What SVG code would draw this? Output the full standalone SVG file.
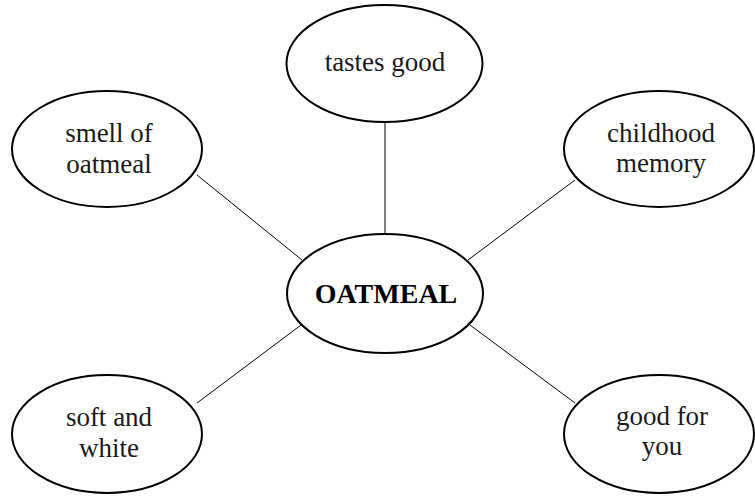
<svg xmlns="http://www.w3.org/2000/svg" width="755" height="496" viewBox="0 0 755 496">
<style>
.node ellipse{fill:#fff;stroke:#000;stroke-width:2}
.node text{font-family:"Liberation Serif","Times New Roman",serif;font-size:27px;fill:#1a1a1a;text-anchor:middle}
.node text.main{font-weight:bold;font-size:28px;fill:#000}
.conn line{stroke:#000;stroke-width:1}
</style>
<rect width="755" height="496" fill="#fff"/>
<g id="connectors" class="conn">
<line x1="385" y1="122" x2="385" y2="234"/>
<line x1="197" y1="175" x2="302" y2="260"/>
<line x1="575" y1="180" x2="468" y2="260"/>
<line x1="197" y1="403" x2="301" y2="325"/>
<line x1="575" y1="403" x2="470" y2="325"/>
</g>
<g id="oatmeal" class="node">
<ellipse cx="385" cy="293.5" rx="98" ry="59.5"/>
<text class="main" x="386" y="303">OATMEAL</text>
</g>
<g id="tastes-good" class="node">
<ellipse cx="384.5" cy="63.5" rx="98" ry="58.5"/>
<text x="385" y="71">tastes good</text>
</g>
<g id="smell-of-oatmeal" class="node">
<ellipse cx="107" cy="149" rx="95" ry="58"/>
<text x="109" y="142">smell of</text>
<text x="109" y="173">oatmeal</text>
</g>
<g id="childhood-memory" class="node">
<ellipse cx="659" cy="149" rx="95" ry="58"/>
<text x="661" y="142">childhood</text>
<text x="661" y="172">memory</text>
</g>
<g id="soft-and-white" class="node">
<ellipse cx="107" cy="434" rx="95" ry="59"/>
<text x="109" y="426">soft and</text>
<text x="109" y="457">white</text>
</g>
<g id="good-for-you" class="node">
<ellipse cx="659" cy="434" rx="95" ry="59"/>
<text x="662" y="425">good for</text>
<text x="662" y="455">you</text>
</g>
</svg>
